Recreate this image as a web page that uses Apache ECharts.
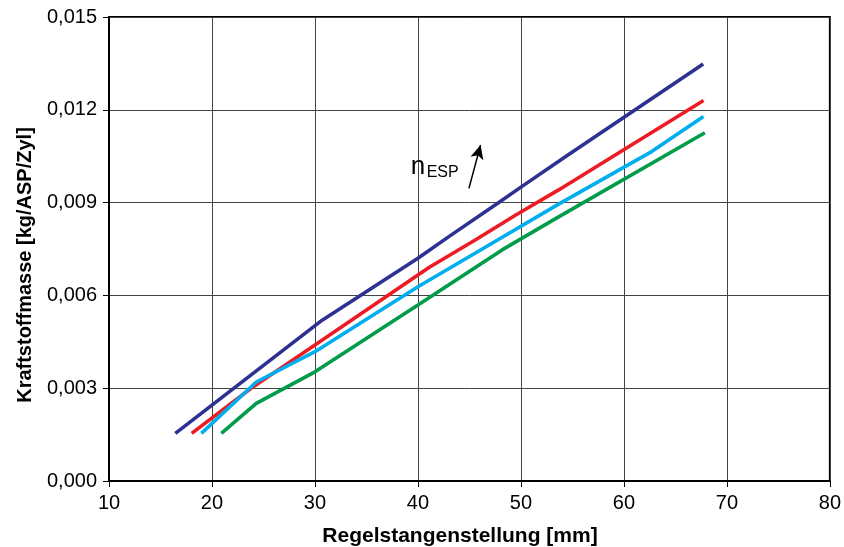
<!DOCTYPE html>
<html>
<head>
<meta charset="utf-8">
<script src="https://cdn.jsdelivr.net/npm/echarts@6/dist/echarts.min.js"></script>
<style>html,body{margin:0;padding:0;background:#fff}#c{width:844px;height:547px}</style>
</head>
<body>
<div id="c"></div>
<script>
// Data (x: Regelstangenstellung [mm], y: Kraftstoffmasse [kg/ASP/Zyl])
const xTicks = [10, 20, 30, 40, 50, 60, 70, 80];
const yTicks = [0, 0.003, 0.006, 0.009, 0.012, 0.015];
const navy  = [[16.44, 0.00154], [30.7, 0.0052], [40.0, 0.0072], [43.0, 0.0079], [47.85, 0.0090], [50.0, 0.0095], [54.6, 0.01055], [67.7, 0.01348]];
const red   = [[18.03, 0.00154], [23.8, 0.0030], [30.0, 0.0044], [41.07, 0.0069], [45.6, 0.0078], [49.5, 0.0086], [53.66, 0.00941], [67.73, 0.0123]];
const cyan  = [[18.97, 0.00154], [24.3, 0.0032], [30.0, 0.00418], [40.0, 0.00628], [46.08, 0.00747], [53.66, 0.00895], [62.69, 0.01065], [67.73, 0.01178]];
const green = [[20.91, 0.00154], [24.3, 0.00251], [30.0, 0.00353], [40.0, 0.00569], [48.17, 0.00747], [53.66, 0.00854], [67.86, 0.01126]];
const arrow = [[44.95, 0.00946], [46.08, 0.01086]];
const nAnchor = [39.3, 0.01015];     // centre-left of "n"
const subAnchor = [40.85, 0.00998];  // centre-left of "ESP"
const xTitle = 'Regelstangenstellung [mm]';
const yTitle = 'Kraftstoffmasse [kg/ASP/Zyl]';

const chart = echarts.init(document.getElementById('c'), null, {renderer: 'canvas'});
const font = 'Liberation Sans, Arial, sans-serif';
function line(name, data, color) {
  return {name, type: 'line', data, symbol: 'none', smooth: false,
    lineStyle: {color, width: 3.6}, z: 3};
}
const series = [
  line('n1', navy, '#2e3192'),
  line('n2', red, '#ed1c24'),
  line('n3', cyan, '#00aeef'),
  line('n4', green, '#009c4a')
];
series.push({
  type: 'line', data: [], markLine: {
    silent: true, symbol: ['none', 'arrow'], symbolSize: [10, 14],
    lineStyle: {color: '#000', width: 1.5, type: 'solid'}, label: {show: false},
    data: [[{coord: arrow[0]}, {coord: arrow[1]}]]
  }
});
chart.setOption({
  animation: false,
  backgroundColor: '#fff',
  grid: {left: 109, right: 12, top: 17, bottom: 66, show: true, borderColor: '#000', borderWidth: 2, backgroundColor: 'transparent'},
  xAxis: {
    type: 'value', min: xTicks[0], max: xTicks[xTicks.length - 1], interval: 10,
    axisLine: {show: true, onZero: false, lineStyle: {color: '#000', width: 2}},
    axisTick: {show: true, length: 6, lineStyle: {color: '#000'}},
    axisLabel: {fontFamily: font, fontSize: 20, color: '#000', margin: 12},
    splitLine: {show: true, lineStyle: {color: '#444', width: 1}}
  },
  yAxis: {
    type: 'value', min: yTicks[0], max: yTicks[yTicks.length - 1], interval: 0.003,
    axisLine: {show: true, onZero: false, lineStyle: {color: '#000', width: 2}},
    axisTick: {show: true, length: 6, lineStyle: {color: '#000'}},
    axisLabel: {fontFamily: font, fontSize: 20, color: '#000', margin: 12,
      formatter: v => v.toFixed(3).replace('.', ',')},
    splitLine: {show: true, lineStyle: {color: '#444', width: 1}}
  },
  series
});
const pn = chart.convertToPixel({gridIndex: 0}, nAnchor);
const ps = chart.convertToPixel({gridIndex: 0}, subAnchor);
chart.setOption({
  graphic: [
    {type: 'text', x: pn[0], y: pn[1], z: 10,
      style: {text: 'n', fill: '#000', font: '26px ' + font, verticalAlign: 'middle', align: 'left'}},
    {type: 'text', x: ps[0], y: ps[1], z: 10,
      style: {text: 'ESP', fill: '#000', font: '16px ' + font, verticalAlign: 'middle', align: 'left'}},
    {type: 'text', x: 460, y: 536, z: 10,
      style: {text: xTitle, fill: '#000', font: 'bold 21px ' + font, verticalAlign: 'middle', align: 'center'}},
    {type: 'text', x: 25, y: 265, rotation: Math.PI / 2, z: 10,
      style: {text: yTitle, fill: '#000', font: 'bold 20px ' + font, verticalAlign: 'middle', align: 'center'}}
  ]
});
</script>
</body>
</html>
